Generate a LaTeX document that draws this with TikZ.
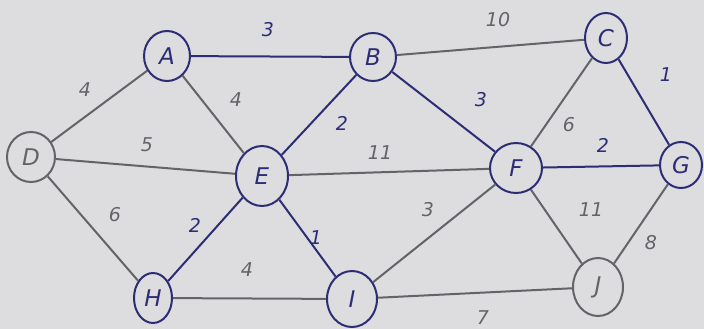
\documentclass[tikz,border=0pt]{standalone}
\usepackage{fontspec}
\setmainfont{DejaVu Sans}
\usetikzlibrary{shapes.geometric}
\definecolor{penblue}{RGB}{45,45,118}
\definecolor{pengray}{RGB}{100,100,104}
\definecolor{paper}{RGB}{221,221,223}
\tikzset{
  vert/.style={ellipse, draw, line width=2pt, inner sep=0pt, font=\fontsize{23}{23}\selectfont\itshape},
  bv/.style={vert, draw=penblue, text=penblue},
  gv/.style={vert, draw=pengray, text=pengray},
  be/.style={draw=penblue, line width=2pt},
  ge/.style={draw=pengray, line width=2pt},
  bl/.style={text=penblue, font=\fontsize{19}{19}\selectfont\itshape},
  gl/.style={text=pengray, font=\fontsize{19}{19}\selectfont\itshape},
}
\begin{document}
\begin{tikzpicture}[x=1pt,y=-1pt]
\fill[paper] (0,0) rectangle (704,329);
\useasboundingbox (0,0) rectangle (704,329);
\node[bv, minimum width=46pt, minimum height=50pt] (A) at (167,56) {A};
\node[bv, minimum width=46pt, minimum height=48pt] (B) at (373,57) {B};
\node[bv, minimum width=42pt, minimum height=50pt] (C) at (606,38) {C};
\node[gv, minimum width=48pt, minimum height=50pt] (D) at (31,157) {D};
\node[bv, minimum width=52pt, minimum height=60pt] (E) at (262,176) {E};
\node[bv, minimum width=52pt, minimum height=50pt] (F) at (516,168) {F};
\node[bv, minimum width=42pt, minimum height=46pt] (G) at (681,165) {G};
\node[bv, minimum width=38pt, minimum height=50pt] (H) at (153,298) {H};
\node[bv, minimum width=50pt, minimum height=56pt] (I) at (352,299) {I};
\node[gv, minimum width=50pt, minimum height=58pt] (J) at (598,287) {J};

\draw[be] (A) -- (B);
\draw[ge] (B) -- (C);
\draw[be] (C) -- (G);
\draw[ge] (D) -- (A);
\draw[ge] (A) -- (E);
\draw[ge] (D) -- (E);
\draw[be] (B) -- (E);
\draw[be] (B) -- (F);
\draw[ge] (E) -- (F);
\draw[ge] (C) -- (F);
\draw[be] (F) -- (G);
\draw[ge] (D) -- (H);
\draw[be] (H) -- (E);
\draw[be] (E) -- (I);
\draw[ge] (I) -- (F);
\draw[ge] (F) -- (J);
\draw[ge] (G) -- (J);
\draw[ge] (H) -- (I);
\draw[ge] (I) -- (J);

\node[bl] (l1) at (268,30) {3};
\node[gl] (l2) at (498,20) {10};
\node[bl] (l3) at (666,75) {1};
\node[gl] (l4) at (85,90) {4};
\node[gl] (l5) at (236,100) {4};
\node[gl] (l6) at (147,145) {5};
\node[bl] (l7) at (342,123) {2};
\node[bl] (l8) at (481,100) {3};
\node[gl] (l9) at (380,153) {11};
\node[gl] (l10) at (569,125) {6};
\node[bl] (l11) at (603,145) {2};
\node[gl] (l12) at (115,215) {6};
\node[bl] (l13) at (195,225) {2};
\node[bl] (l14) at (316,238) {1};
\node[gl] (l15) at (247,270) {4};
\node[gl] (l16) at (428,210) {3};
\node[gl] (l17) at (591,210) {11};
\node[gl] (l18) at (651,243) {8};
\node[gl] (l19) at (483,318) {7};
\end{tikzpicture}
\end{document}
